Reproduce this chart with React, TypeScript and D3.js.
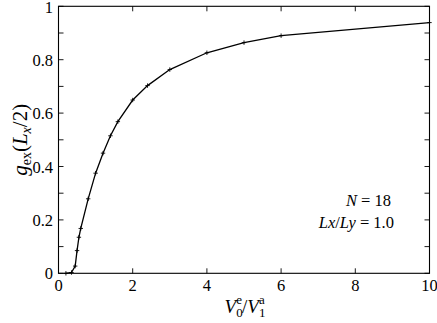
import React from "react";
import * as d3 from "d3";

const xValues = [0.2, 0.35, 0.45, 0.5, 0.55, 0.6, 0.8, 1.0, 1.2, 1.4, 1.6, 2.0, 2.4, 3.0, 4.0, 5.0, 6.0, 10.0];
const yValues = [0.0, 0.003, 0.027, 0.085, 0.135, 0.168, 0.279, 0.375, 0.45, 0.515, 0.568, 0.649, 0.703, 0.763, 0.826, 0.864, 0.89, 0.939];
const xTicks = [0, 2, 4, 6, 8, 10];
const yTicks = [0, 0.2, 0.4, 0.6, 0.8, 1];
const yMinorTicks = [0.1, 0.3, 0.5, 0.7, 0.9];

const W = 437;
const H = 323;
const M = { left: 58.5, right: 429.5, top: 6.3, bottom: 273.3 };
const FONT = `"Liberation Serif", "Times New Roman", serif`;

export default function App() {
  const x = d3.scaleLinear().domain([0, 10]).range([M.left, M.right]);
  const y = d3.scaleLinear().domain([0, 1]).range([M.bottom, M.top]);
  const pts = xValues.map((v, i) => [v, yValues[i]] as [number, number]);
  const line = d3.line<[number, number]>().x((d) => x(d[0])).y((d) => y(d[1]));
  const tl = 5;
  const ms = 2.2;
  const ts = { fontFamily: FONT };
  return (
    <svg width={W} height={H} style={{ position: "absolute", left: 0, top: 0, background: "#fff" }}>
      <rect x={M.left} y={M.top} width={M.right - M.left} height={M.bottom - M.top} fill="none" stroke="#000" strokeWidth={1.1} />
      {xTicks.map((t) => (
        <g key={"x" + t}>
          <line x1={x(t)} x2={x(t)} y1={M.bottom} y2={M.bottom - tl} stroke="#000" strokeWidth={0.9} />
          <line x1={x(t)} x2={x(t)} y1={M.top} y2={M.top + tl} stroke="#000" strokeWidth={0.9} />
          <text style={ts} x={x(t)} y={291} textAnchor="middle" fontSize={16.5} fill="#000">{t}</text>
        </g>
      ))}
      {yTicks.concat(yMinorTicks).map((t) => (
        <g key={"y" + t}>
          <line x1={M.left} x2={M.left + tl} y1={y(t)} y2={y(t)} stroke="#000" strokeWidth={0.9} />
          <line x1={M.right} x2={M.right - tl} y1={y(t)} y2={y(t)} stroke="#000" strokeWidth={0.9} />
        </g>
      ))}
      {yTicks.map((t) => (
        <text style={ts} key={"yl" + t} x={53} y={Math.max(y(t) + 6, 13)} textAnchor="end" fontSize={16.5} fill="#000">{t}</text>
      ))}
      <path d={line(pts) || ""} fill="none" stroke="#000" strokeWidth={1.3} />
      {pts.map((d, i) => (
        <g key={"m" + i} stroke="#000" strokeWidth={0.9}>
          <line x1={x(d[0]) - ms} x2={x(d[0]) + ms} y1={y(d[1])} y2={y(d[1])} />
          <line x1={x(d[0])} x2={x(d[0])} y1={y(d[1]) - ms} y2={y(d[1]) + ms} />
        </g>
      ))}
      <text style={ts} x={391} y={206} textAnchor="end" fontSize={16.5} fill="#000">
        <tspan fontStyle="italic">N</tspan> = 18
      </text>
      <text style={ts} x={394} y={228} textAnchor="end" fontSize={16.5} fill="#000">
        <tspan fontStyle="italic">Lx</tspan>/<tspan fontStyle="italic">Ly</tspan> = 1.0
      </text>
      <text style={ts} x={245} y={313} textAnchor="middle" fontSize={19} fill="#000">
        <tspan fontStyle="italic">V</tspan>
        <tspan fontSize={13} dy={4}>0</tspan>
        <tspan fontSize={13} dx={-6.5} dy={-13}>e</tspan>
        <tspan dy={9}>/</tspan>
        <tspan fontStyle="italic">V</tspan>
        <tspan fontSize={13} dy={4}>1</tspan>
        <tspan fontSize={13} dx={-6.5} dy={-13}>a</tspan>
      </text>
      <text style={ts} transform={`translate(27,${y(0.5)}) rotate(-90)`} textAnchor="middle" fontSize={21} fill="#000">
        <tspan fontStyle="italic">g</tspan>
        <tspan fontSize={14} dy={4}>ex</tspan>
        <tspan dy={-4}>(</tspan>
        <tspan fontStyle="italic">L</tspan>
        <tspan fontSize={14} fontStyle="italic" dy={4}>x</tspan>
        <tspan dy={-4}>/2)</tspan>
      </text>
    </svg>
  );
}
